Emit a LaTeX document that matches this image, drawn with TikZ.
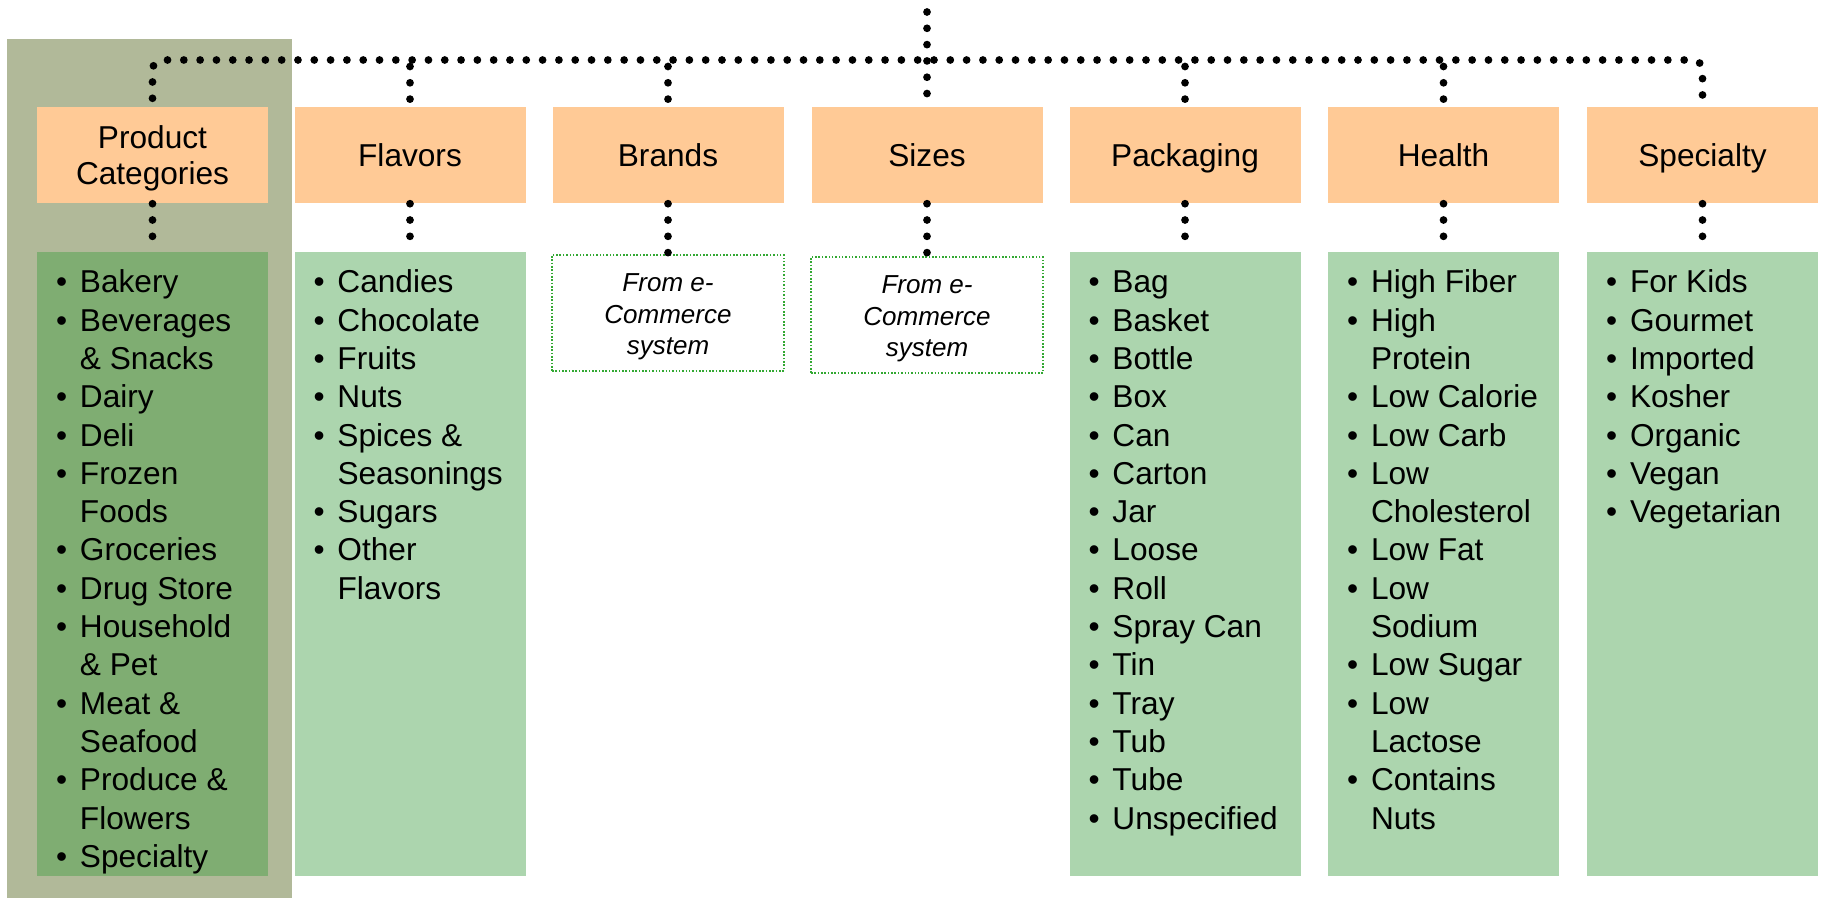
\documentclass[tikz,border=0pt]{standalone}
\usepackage{fontspec}
\setmainfont{Liberation Sans}
\usepackage{tikz}

\definecolor{peach}{RGB}{255,202,150}
\definecolor{leaf}{RGB}{172,213,174}
\definecolor{moss}{RGB}{127,173,114}
\definecolor{sage}{RGB}{177,185,153}
\definecolor{extgreen}{RGB}{51,168,51}

\newcommand{\bul}{\strut\makebox[0.24cm][l]{\textbullet}}
\newcommand{\ind}{\strut\hspace*{0.24cm}}

\begin{document}
\begin{tikzpicture}[hbox/.style = {fill = peach, minimum width = 2.31cm, minimum height = 0.96cm,
                                   inner sep = 0pt, align = center, font = \fontsize{9pt}{10.5pt}\selectfont},
                    head/.style = {hbox, text height = 6.7pt, text depth = 0pt},
                    box/.style = {fill = leaf, minimum width = 2.31cm, minimum height = 6.24cm, inner sep = 0pt},
                    ext/.style = {draw = extgreen, line width = 0.45pt, dash pattern = on 0.45pt off 0.5pt,
                                  minimum width = 2.32cm, minimum height = 1.16cm, inner sep = 0pt, align = center,
                                  font = \fontsize{7.4pt}{9pt}\selectfont\itshape},
                    list/.style = {anchor = north west, inner sep = 0pt, align = left,
                                   font = \fontsize{9pt}{10.9pt}\selectfont},
                    dots/.style = {line width = 2.2pt, line cap = round, dash pattern = on 0pt off 4.64pt}]
  \useasboundingbox (0, 0) rectangle (18.22, -8.98);
  \fill [sage] (0.07, -0.39) rectangle (2.92, -8.98);

  \node [hbox] (H1) at (1.525, -1.55) {\rule{0pt}{8.4pt}Product\\Categories};
  \node [head] (H2) at (4.10, -1.55) {Flavors};
  \node [head] (H3) at (6.68, -1.55) {Brands};
  \node [head] (H4) at (9.27, -1.55) {Sizes};
  \node [head] (H5) at (11.85, -1.55) {Packaging};
  \node [head] (H6) at (14.435, -1.55) {Health};
  \node [head] (H7) at (17.025, -1.55) {Specialty};

  \node [box, fill = moss] (B1) at (1.525, -5.64) {};
  \node [box] (B2) at (4.10, -5.64) {};
  \node [ext] (B3) at (6.68, -3.13) {\rule{0pt}{7.3pt}From e-\\Commerce\\system};
  \node [ext] (B4) at (9.27, -3.15) {\rule{0pt}{7.3pt}From e-\\Commerce\\system};
  \node [box] (B5) at (11.85, -5.64) {};
  \node [box] (B6) at (14.435, -5.64) {};
  \node [box] (B7) at (17.025, -5.64) {};

  \node [list] (L1) at ([shift = {(0.19, -0.14)}] B1.north west)
    {\bul Bakery\\ \bul Beverages\\ \ind \& Snacks\\ \bul Dairy\\ \bul Deli\\ \bul Frozen\\ \ind Foods\\
     \bul Groceries\\ \bul Drug Store\\ \bul Household\\ \ind \& Pet\\ \bul Meat \&\\ \ind Seafood\\
     \bul Produce \&\\ \ind Flowers\\ \bul Specialty};
  \node [list] (L2) at ([shift = {(0.19, -0.14)}] B2.north west)
    {\bul Candies\\ \bul Chocolate\\ \bul Fruits\\ \bul Nuts\\ \bul Spices \&\\ \ind Seasonings\\
     \bul Sugars\\ \bul Other\\ \ind Flavors};
  \node [list] (L5) at ([shift = {(0.19, -0.14)}] B5.north west)
    {\bul Bag\\ \bul Basket\\ \bul Bottle\\ \bul Box\\ \bul Can\\ \bul Carton\\ \bul Jar\\ \bul Loose\\
     \bul Roll\\ \bul Spray Can\\ \bul Tin\\ \bul Tray\\ \bul Tub\\ \bul Tube\\ \bul Unspecified};
  \node [list] (L6) at ([shift = {(0.19, -0.14)}] B6.north west)
    {\bul High Fiber\\ \bul High\\ \ind Protein\\ \bul Low Calorie\\ \bul Low Carb\\ \bul Low\\ \ind Cholesterol\\
     \bul Low Fat\\ \bul Low\\ \ind Sodium\\ \bul Low Sugar\\ \bul Low\\ \ind Lactose\\ \bul Contains\\ \ind Nuts};
  \node [list] (L7) at ([shift = {(0.19, -0.14)}] B7.north west)
    {\bul For Kids\\ \bul Gourmet\\ \bul Imported\\ \bul Kosher\\ \bul Organic\\ \bul Vegan\\ \bul Vegetarian};

  % tree lines
  \coordinate (T) at (9.27, -0.12);
  \coordinate (J) at (9.27, -0.60);
  \draw [dots, rounded corners = 0.1cm, shorten <= 0.08cm] (H1) |- (J) -| (H7);
  \draw [dots] (T) -- (H4);
  \draw [dots, shorten <= 0.065cm] (J -| H2) -- (H2);
  \draw [dots, shorten <= 0.065cm] (J -| H3) -- (H3);
  \draw [dots, shorten <= 0.065cm] (J -| H5) -- (H5);
  \draw [dots, shorten <= 0.065cm] (J -| H6) -- (H6);
  \draw [dots] (H1) -- (B1);
  \draw [dots] (H2) -- (B2);
  \draw [dots] (H3) -- (B3);
  \draw [dots] (H4) -- (B4);
  \draw [dots] (H5) -- (B5);
  \draw [dots] (H6) -- (B6);
  \draw [dots] (H7) -- (B7);
\end{tikzpicture}
\end{document}
